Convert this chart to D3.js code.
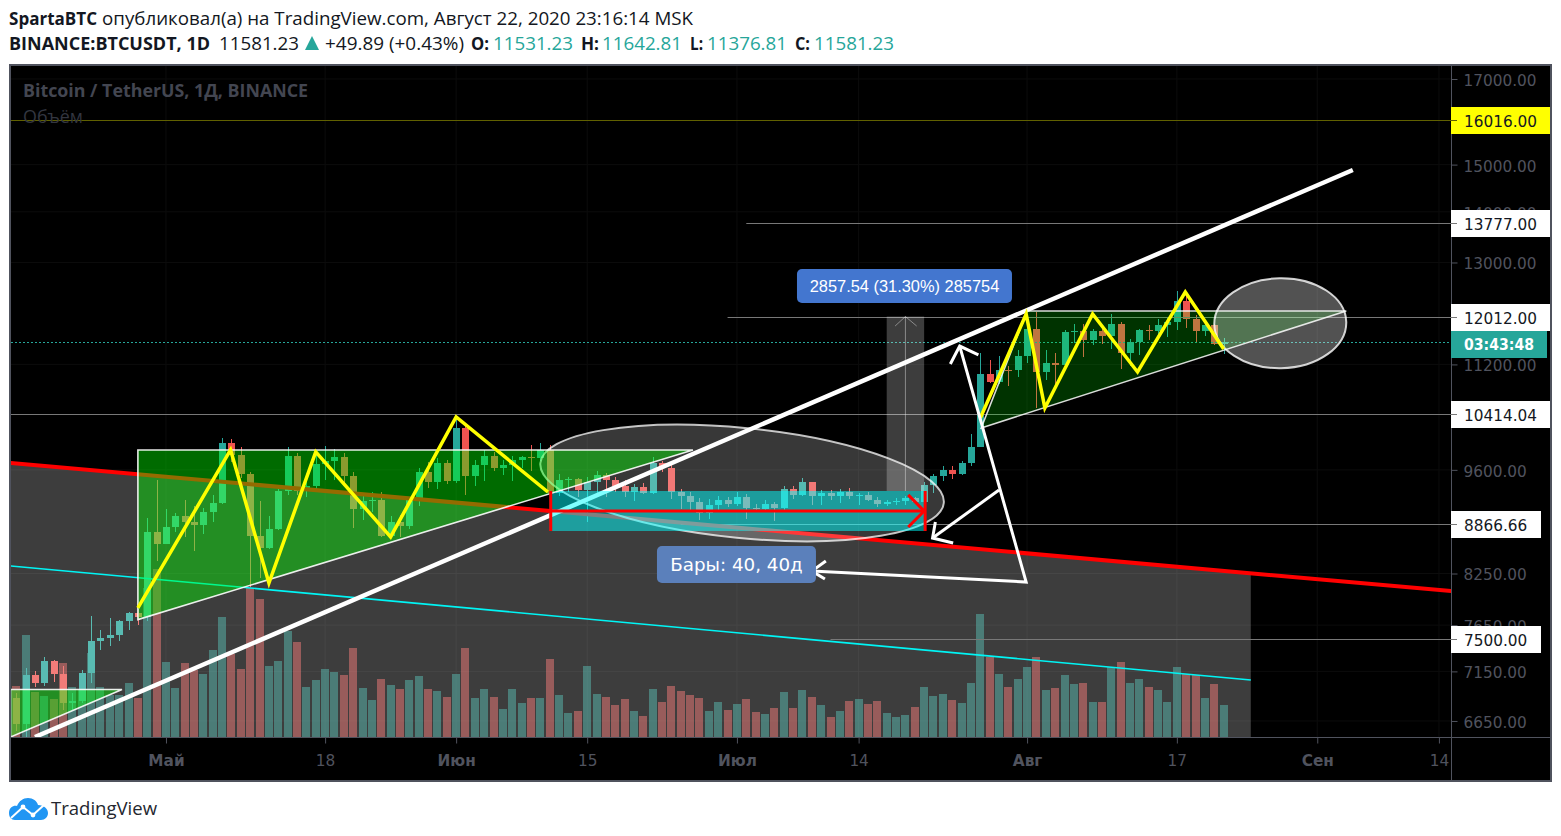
<!DOCTYPE html>
<html><head><meta charset="utf-8">
<script src="https://cdn.jsdelivr.net/npm/d3@7/dist/d3.min.js"></script>
<style>html,body{margin:0;padding:0;background:#fff;overflow:hidden}svg{display:block}</style>
</head><body><svg id="c" width="1561" height="836"></svg>
<script>
// ---- candle data: Apr 15 .. Aug 22 2020, day 0 = May 1
const firstDay = -16;
const opens = [6875,6620,7110,7030,7255,7120,6830,6850,7130,7480,7510,7540,7700,7790,7745,8770,
8620,8825,8970,8890,8860,9020,9150,9985,9805,9540,8720,8560,8810,9310,9790,9310,9380,9680,9730,9775,9510,9060,9170,9180,8720,8890,8840,9210,9570,9430,9700,
9450,10200,9520,9670,9790,9620,9670,9745,9780,9770,9885,9280,9465,9475,9325,9430,9525,9455,9380,9300,9360,9285,9690,9625,9295,9240,9160,9010,9120,9190,
9135,9230,9085,9060,9130,9075,9340,9250,9435,9235,9285,9240,9300,9240,9255,9190,9130,9155,9170,9210,9160,9390,9520,9600,9540,9700,9930,11040,10910,11110,11105,
11340,11800,11070,11230,11190,11745,11765,11600,11755,11680,11880,11395,11565,11780,11765,11860,11910,12295,11965,11755,11860,11531.23];
const highs = [6930,7190,7150,7300,7265,7210,6930,7160,7750,7600,7730,7710,7800,7830,8950,9460,
9060,9010,9190,9110,9080,9250,10060,10040,9920,9570,9170,8980,9340,9930,9840,9500,9860,9940,9890,9840,9570,9270,9300,9300,8970,8990,9230,9620,9710,9770,9740,
10380,10240,9740,9880,9860,9740,9800,9800,9960,9990,9960,9540,9500,9490,9500,9590,9560,9500,9460,9400,9420,9780,9720,9680,9340,9300,9210,9200,9240,9220,
9300,9270,9130,9190,9160,9370,9380,9480,9435,9320,9320,9340,9350,9280,9290,9220,9190,9210,9240,9220,9430,9540,9660,9650,9730,10120,11390,11270,11340,11180,11440,
12000,12090,11440,11390,11780,11890,11890,11790,11810,12050,11920,11620,11800,11860,11970,11980,12470,12430,12040,11900,11880,11642.81];
const lows = [6555,6470,6990,7000,7040,6760,6760,6830,7030,7380,7420,7470,7600,7650,7700,8400,
8620,8760,8700,8530,8740,8900,9130,9710,9490,8090,8200,8550,8790,9250,9250,9230,9340,9460,9460,9390,8820,8920,9030,8700,8700,8700,8810,9110,9350,9340,9400,
9420,9250,9380,9450,9580,9530,9440,9630,9590,9720,9000,9240,9300,9230,8900,9270,9230,9300,9220,9170,9270,9270,9570,9200,9060,9050,8920,8940,9030,9090,
9100,8940,9045,9030,8905,9055,9200,9240,9120,9120,9190,9150,9200,9120,9170,9090,9100,9125,9120,9130,9150,9280,9440,9470,9530,9650,9920,10900,10880,10850,10990,
11220,10510,10950,10870,11130,11555,11320,11520,11540,11460,11130,11180,11360,11600,11660,11660,11770,11820,11560,11670,11515,11376.81];
const closes = [6620,7110,7030,7255,7120,6830,6850,7130,7480,7510,7540,7700,7790,7745,8770,8620,
8825,8970,8890,8860,9020,9150,9985,9805,9540,8720,8560,8810,9310,9790,9310,9380,9680,9730,9775,9510,9060,9170,9180,8720,8890,8840,9210,9570,9430,9700,9450,
10200,9520,9670,9790,9620,9670,9745,9780,9770,9885,9280,9465,9475,9325,9430,9525,9455,9380,9300,9360,9285,9690,9625,9295,9240,9160,9010,9120,9190,9135,
9230,9085,9060,9130,9075,9340,9250,9435,9235,9285,9240,9300,9240,9255,9190,9130,9155,9170,9210,9160,9390,9520,9600,9540,9700,9930,11040,10910,11110,11105,11340,
11800,11070,11230,11190,11745,11765,11600,11755,11680,11880,11395,11565,11780,11765,11860,11910,12295,11965,11755,11860,11531,11581.23];
const volumes = [51,102,45,41,38,74,50,47,84,50,42,42,54,39,149,168,
75,49,74,67,63,87,120,83,68,149,138,71,76,106,95,50,57,68,65,62,89,49,37,58,52,48,57,61,48,46,40,
63,89,39,48,40,28,48,34,39,39,78,42,24,26,71,43,40,32,38,26,21,48,35,51,46,42,39,26,35,27,
33,38,25,23,29,45,29,47,40,32,20,26,36,38,33,36,24,20,22,30,50,41,43,37,34,54,123,80,63,50,58,
70,80,47,49,62,53,54,35,35,70,75,54,58,50,47,35,70,63,62,39,53,32];
const volumeMax = 123;

// ---- axes
const priceTicks = [17000,15000,14000,13000,11200,9600,8250,7650,7150,6650];
const timeTickDays = [0,17,31,45,61,74,92,108,123,136];
const timeTickLabels = ["Май","18","Июн","15","Июл","14","Авг","17","Сен","14"];
const timeTickBold = [true,false,true,false,true,false,true,false,true,false];

// ---- horizontal levels: [price, startDay or null, label, label background, line colour]
const levels = [
 [16016,null,"16016.00","#ffff00","#606000"],
 [13777,62,"13777.00","#ffffff","#787878"],
 [12012,60,"12012.00","#ffffff","#787878"],
 [10414.04,null,"10414.04","#ffffff","#787878"],
 [8866.66,55,"8866.66","#ffffff","#787878"],
 [7500,71,"7500.00","#ffffff","#787878"]];
const lastPrice = 11581.23;

// ---- drawing tools, anchors as [day, price]
const paneBottomPrice = 6496, paneTopPrice = 17326;
const redLine = [[-16.6,9697],[137.3,8041]];
const cyanLine = [[-16.6,8342],[115.9,7060]];
const whiteLine = [[-14,6496],[126.8,14882]];
const greyArea = [[-16.6,9697],[115.9,8253],[115.9,6496],[-16.6,6496]];
const triangleA = [[-3,9883],[-3,7713],[56.3,9883]];
const triangleB = [[-16.6,6963],[-4.7,6963],[-16.6,6496]];
const triangleC = [[87.1,10207],[92,12111],[126.1,12111]];
const ellipseA = {ends:[[40,9697],[83.1,9146]],minor:55};
const ellipseB = {ends:[[112,11873],[126.1,11917]],minor:45};
const zigzagL = [[-3,7845],[6.9,9883],[11,8136],[16,9855],[24,8703],[31,10372],[40.8,9294]];
const zigzagR = [[87,10357],[91.9,12056],[93.9,10509],[99,12056],[103.8,11077],[108.9,12451],[113,11456]];
const priceRange = {days:[77,81],prices:[12012,9308],mid:79,chevron:[[77.9,11847],[79,12012],[80.2,11847]]};
const dateRange = {days:[41,81],prices:[9308,8779],mid:9039,barbs:[[79.3,9255],[81,9039],[79.3,8830]]};
const arrowV = [[84.8,11505],[91.9,8148],[69,8280]];
const arrowVHead1 = [[83.8,11206],[84.8,11505],[86.8,11356]];
const arrowVHead2 = [[70.5,8403],[69,8280],[70.4,8184]];
const arrow2 = [[89,9321],[81.9,8689]];
const arrow2Head = [[82.2,8896],[81.9,8689],[84.1,8626]];
const labelRange = {day:78.9,price:12561,text:"2857.54 (31.30%) 285754"};
const labelBars = {day:60.95,price:8359,text:"Бары: 40, 40д"};

// ---- layout
const L=11,R=1451,T=66,B=737,AB=781,AR=1551;
const x = d3.scaleLinear().domain([-16.6,137.3]).range([L-0.4,R+0.1]);
const y = d3.scaleLog().domain([paneTopPrice,paneBottomPrice]).range([T,B]);
const vy = d3.scaleLinear().domain([0,volumeMax]).range([B,B-123]);
const UP="#26a69a",DN="#ef5350",GRID="#0c0c0c",AX="#50535e";
const FONT="'DejaVu Sans',sans-serif", UI="'Open Sans',sans-serif";
const pt = p=>[x(p[0]),y(p[1])];
const line = d3.line();
const svg = d3.select("#c");
svg.append("defs").append("clipPath").attr("id","pane").append("rect").attr("x",L).attr("y",T).attr("width",R-L).attr("height",B-T);

// header
function txt(g,xp,yp,s,o={}){const t=g.append("text").attr("x",xp).attr("y",yp).text(s)
 .attr("font-family",o.f||UI).attr("font-size",o.s||18).attr("fill",o.c||"#131722");
 if(o.w)t.attr("font-weight",o.w); if(o.a)t.attr("text-anchor",o.a); if(o.l)t.attr("textLength",o.l).attr("lengthAdjust","spacingAndGlyphs"); return t;}
const H=svg.append("g");
txt(H,9,25,"SpartaBTC",{w:700,l:88});
txt(H,102,25,"опубликовал(а) на TradingView.com, Август 22, 2020 23:16:14 MSK",{l:591});
txt(H,9,50,"BINANCE:BTCUSDT, 1D",{w:700,l:201});
txt(H,219,50,"11581.23",{l:80});
H.append("path").attr("d",d3.line()([[305,50],[312,36],[319,50]])+"Z").attr("fill",UP);
txt(H,325,50,"+49.89 (+0.43%)",{l:139});
[["O:",471,18,"11531.23",493],["H:",581,18,"11642.81",602],["L:",690,13,"11376.81",707],["C:",795,15,"11581.23",814]].forEach(d=>{
 txt(H,d[1],50,d[0],{w:700,l:d[2]}); txt(H,d[4],50,d[3],{c:UP,l:80});});

// chart frame
svg.append("rect").attr("x",L-1).attr("y",T-1).attr("width",AR-L+1).attr("height",AB-T+1).attr("fill","#000").attr("stroke",AX).attr("stroke-width",2);

// grid
const grid=svg.append("g").attr("clip-path","url(#pane)");
grid.selectAll(".v").data(timeTickDays).join("line").attr("x1",d=>x(d)).attr("x2",d=>x(d)).attr("y1",T).attr("y2",B).attr("stroke",GRID);
grid.selectAll(".h").data(priceTicks).join("line").attr("y1",d=>y(d)).attr("y2",d=>y(d)).attr("x1",L).attr("x2",R).attr("stroke",GRID);

// series
const days = opens.map((o,i)=>({day:firstDay+i,o,h:highs[i],l:lows[i],c:closes[i],v:volumes[i]}));
const colr=d=>d.c>=d.o?UP:DN;
const pane=svg.append("g").attr("clip-path","url(#pane)");
pane.append("g").selectAll("rect").data(days).join("rect")
 .attr("x",d=>Math.round(x(d.day))-4).attr("width",8).attr("y",d=>vy(d.v)).attr("height",d=>B-vy(d.v))
 .attr("fill",colr).attr("opacity",0.5);
pane.append("g").selectAll("rect").data(days).join("rect")
 .attr("x",d=>Math.round(x(d.day))-0.5).attr("width",1).attr("y",d=>y(d.h)).attr("height",d=>y(d.l)-y(d.h)).attr("fill",colr).attr("shape-rendering","crispEdges");
pane.append("g").selectAll("rect").data(days).join("rect")
 .attr("x",d=>Math.round(x(d.day))-3.5).attr("width",7).attr("y",d=>Math.min(y(d.o),y(d.c))).attr("height",d=>Math.max(1,Math.abs(y(d.o)-y(d.c)))).attr("fill",colr).attr("shape-rendering","crispEdges");

// drawings
const poly=(g,pts,fill,stroke,w)=>g.append("path").attr("d",line(pts.map(pt))+"Z").attr("fill",fill).attr("stroke",stroke||"none").attr("stroke-width",w||0);
const pl=(g,pts,stroke,w,extra)=>g.append("path").attr("d",line(pts.map(pt))).attr("fill","none").attr("stroke",stroke).attr("stroke-width",w).attr("stroke-linejoin",extra||"miter");
const D=svg.append("g").attr("clip-path","url(#pane)");
poly(D,greyArea,"rgba(255,255,255,0.24)");
// levels
levels.forEach(l=>{const yy=Math.round(y(l[0]))+0.5;
 D.append("line").attr("x1",l[1]==null?L:x(l[1])).attr("x2",R).attr("y1",yy).attr("y2",yy).attr("stroke",l[4]);});
D.append("line").attr("x1",L).attr("x2",R).attr("y1",Math.round(y(lastPrice))+0.5).attr("y2",Math.round(y(lastPrice))+0.5).attr("stroke",UP).attr("stroke-dasharray","2 2");
pl(D,cyanLine,"#00f5f5",1.6);
pl(D,redLine,"#ff0000",4);
pl(D,whiteLine,"#ffffff",4.5);
function ell(g,e,fill,strokeC){const a=pt(e.ends[0]),b=pt(e.ends[1]);const cx=(a[0]+b[0])/2,cy=(a[1]+b[1])/2;
 const rx=Math.hypot(b[0]-a[0],b[1]-a[1])/2,rot=Math.atan2(b[1]-a[1],b[0]-a[0])*180/Math.PI;
 g.append("ellipse").attr("cx",cx).attr("cy",cy).attr("rx",rx).attr("ry",e.minor).attr("transform",`rotate(${rot} ${cx} ${cy})`)
  .attr("fill",fill).attr("stroke",strokeC).attr("stroke-width",2);}
ell(D,ellipseA,"rgba(255,255,255,0.22)","rgba(255,255,255,0.75)");
// price range
const pr=priceRange;
D.append("rect").attr("x",x(pr.days[0])).attr("width",x(pr.days[1])-x(pr.days[0])).attr("y",y(pr.prices[0])).attr("height",y(pr.prices[1])-y(pr.prices[0])).attr("fill","rgba(255,255,255,0.24)");
D.append("line").attr("x1",x(pr.mid)).attr("x2",x(pr.mid)).attr("y1",y(pr.prices[0])).attr("y2",y(pr.prices[1])).attr("stroke","rgba(255,255,255,0.4)");
pl(D,pr.chevron,"rgba(255,255,255,0.4)",1);
// date range box
const dr=dateRange;
D.append("rect").attr("x",x(dr.days[0])).attr("width",x(dr.days[1])-x(dr.days[0])).attr("y",y(dr.prices[0])).attr("height",y(dr.prices[1])-y(dr.prices[0])).attr("fill","rgba(0,255,255,0.5)");
// triangles
poly(D,triangleB,"rgba(0,255,0,0.42)","rgba(255,255,255,0.9)",1.6);
poly(D,triangleA,"rgba(0,255,0,0.42)","rgba(255,255,255,0.9)",1.6);
poly(D,triangleC,"rgba(0,255,0,0.2)","rgba(255,255,255,0.85)",1.6);
ell(D,ellipseB,"rgba(255,255,255,0.32)","rgba(255,255,255,0.8)");
// red measure
dr.days.forEach(d=>D.append("line").attr("x1",x(d)+1).attr("x2",x(d)+1).attr("y1",y(dr.prices[0])).attr("y2",y(dr.prices[1])).attr("stroke","#ff0000").attr("stroke-width",3));
pl(D,[[dr.days[0],dr.mid],[dr.days[1],dr.mid]],"#ff0000",3);
pl(D,dr.barbs,"#ff0000",3);
// zigzags & arrows
pl(D,zigzagL,"#ffff00",3.5);pl(D,zigzagR,"#ffff00",3.5);
[arrowV,arrowVHead1,arrowVHead2,arrow2,arrow2Head].forEach(a=>pl(D,a,"#ffffff",3));

// labels on chart
function badge(b,w,h,fill,size,fam){const c=pt([b.day,b.price]);
 D.append("rect").attr("x",c[0]-w/2).attr("y",c[1]-h/2).attr("width",w).attr("height",h).attr("rx",5).attr("fill",fill);
 txt(D,c[0],c[1]+size*0.36,b.text,{f:fam,s:size,c:"#fff",a:"middle"});}
badge(labelRange,215,34,"#4376cf",16.4,"'Liberation Sans',sans-serif");
badge(labelBars,159,37,"#5b80bb",18.3,FONT);

// watermark text
txt(svg,23,97,"Bitcoin / TetherUS, 1Д, BINANCE",{s:18,w:700,c:"#434651",l:285});
txt(svg,23,123,"Объём",{s:18,c:"#333640",l:60});

// axes
svg.append("line").attr("x1",R+.5).attr("x2",R+.5).attr("y1",T).attr("y2",AB).attr("stroke",AX);
svg.append("line").attr("x1",L).attr("x2",AR).attr("y1",B+.5).attr("y2",B+.5).attr("stroke",AX);
const ay=svg.append("g").attr("transform",`translate(${R+.5},0)`).call(d3.axisRight(y).tickValues(priceTicks).tickFormat(d=>d.toFixed(2)).tickSize(6).tickPadding(6));
ay.select(".domain").remove(); ay.selectAll("line").attr("stroke",AX);
ay.selectAll("text").attr("fill",AX).attr("font-family",FONT).attr("font-size",15.3).attr("dy","0.42em");
const ax=svg.append("g").attr("transform",`translate(0,${B+.5})`).call(d3.axisBottom(x).tickValues(timeTickDays).tickFormat((d,i)=>timeTickLabels[i]).tickSize(6).tickPadding(12));
ax.select(".domain").remove(); ax.selectAll("line").attr("stroke",AX);
ax.selectAll("text").attr("fill",AX).attr("font-family",FONT).attr("font-size",15.3).attr("font-weight",(d,i)=>timeTickBold[i]?700:400);

// level labels
levels.forEach(l=>{const yy=y(l[0]),w=l[2].length>7?99:90;
 svg.append("rect").attr("x",R).attr("y",Math.round(yy)-13).attr("width",w).attr("height",27).attr("fill",l[3]);
 svg.append("line").attr("x1",R).attr("x2",R+6).attr("y1",Math.round(yy)+.5).attr("y2",Math.round(yy)+.5).attr("stroke",l[4]);
 txt(svg,R+13,Math.round(yy)+7,l[2],{f:FONT,s:15.3,c:"#131722"});});
const ly=Math.round(y(lastPrice));
svg.append("rect").attr("x",R).attr("y",ly-11).attr("width",96).attr("height",27).attr("fill",UP);
txt(svg,R+13,ly+8,"03:43:48",{f:FONT,s:15.3,c:"#fff",w:700,l:70});

// logo
const logo=svg.append("g").attr("transform","translate(9,798)");
logo.append("path").attr("d","M0 15 C0 9 5 7 8 8 C10 3 14 0 19 0 C24 0 28 3 29 7 C35 7 39 11 39 15 C39 19 36 22 32 22 L6 22 C2 22 0 19 0 15Z").attr("fill","#2196f3");
logo.append("path").attr("d","M2 20 L14 9 L24 17 L35 7").attr("fill","none").attr("stroke","#fff").attr("stroke-width",2);
logo.selectAll("circle").data([[14,9],[24,17]]).join("circle").attr("cx",d=>d[0]).attr("cy",d=>d[1]).attr("r",2.4).attr("fill","#fff");
txt(svg,51,815,"TradingView",{s:18.5,l:106,c:"#24272f"});
</script></body></html>
